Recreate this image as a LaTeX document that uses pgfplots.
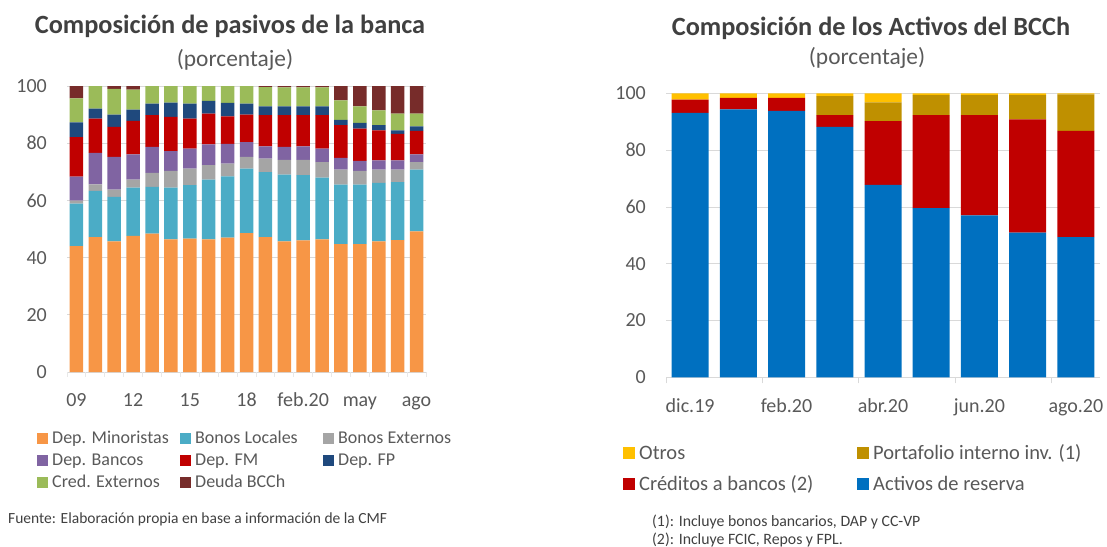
\documentclass[border=0pt]{standalone}
\usepackage{pgfplots}
\pgfplotsset{compat=1.18}
\usepackage{pgfplotstable}
\usepackage{fontspec}
\setmainfont{Carlito}

\definecolor{cMin}{HTML}{F79646}
\definecolor{cBL}{HTML}{4BACC6}
\definecolor{cBE}{HTML}{A5A5A5}
\definecolor{cDB}{HTML}{8064A2}
\definecolor{cFM}{HTML}{C00000}
\definecolor{cFP}{HTML}{1F497D}
\definecolor{cCE}{HTML}{9BBB59}
\definecolor{cBC}{HTML}{772C2A}
\definecolor{cOt}{HTML}{FFC000}
\definecolor{cPo}{HTML}{BF9000}
\definecolor{cCr}{HTML}{C00000}
\definecolor{cAc}{HTML}{0070C0}
\definecolor{txt}{HTML}{595959}
\definecolor{ttl}{HTML}{404040}
\definecolor{grd}{HTML}{D9D9D9}
\definecolor{ltk}{HTML}{E8E8E8}

\pgfplotstableread{
x  min   bl    be   db    fm    fp   ce   bc
0  44.0  14.9  1.0  8.4  13.8  5.2  8.4  4.3
1  47.2  16.1  2.3 11.0  12.0  3.5  7.9  0.0
2  45.7  15.5  2.6 11.4  10.5  4.3  9.0  1.0
3  47.6  16.9  2.8  8.8  11.7  3.9  7.0  1.3
4  48.4  16.3  4.9  9.1  11.1  4.0  6.2  0.0
5  46.4  18.1  5.8  6.9  12.0  5.0  5.8  0.0
6  46.6  18.7  5.8  7.0  10.5  5.2  6.2  0.0
7  46.4  20.9  5.0  7.3  10.7  4.5  5.2  0.0
8  47.0  21.4  4.5  6.9   9.6  4.7  5.9  0.0
9  48.6  22.5  4.1  5.2   9.6  3.8  6.2  0.0
10 47.2  22.7  4.7  4.3  10.9  3.1  6.7  0.4
11 45.7  23.3  5.2  4.5  11.1  3.1  6.6  0.5
12 46.0  22.8  5.4  4.7  10.9  3.1  6.6  0.5
13 46.4  21.6  5.4  4.7  11.7  3.1  6.6  0.5
14 44.7  20.8  5.3  4.1  11.4  1.9  6.8  5.0
15 44.7  20.8  4.8  3.5  11.3  2.0  5.8  7.1
16 45.7  20.4  4.7  3.2  10.5  1.8  5.2  8.5
17 46.1  20.3  4.4  3.2   9.3  1.2  5.8  9.7
18 49.2  21.6  2.6  2.7   8.2  1.6  4.4  9.7
}\leftdata

\pgfplotstableread{
x  ac    cr    po    ot
0  93.1   4.7   0.0  2.2
1  94.3   4.1   0.0  1.6
2  93.8   4.6   0.0  1.6
3  88.2   4.1   6.7  1.0
4  67.8  22.4   6.6  3.2
5  59.6  32.7   7.1  0.6
6  57.0  35.3   7.1  0.6
7  50.9  39.9   8.6  0.6
8  49.4  37.4  12.8  0.4
}\rightdata

\pgfplotsset{
  mystyle/.style={
    scale only axis, ybar stacked, ymin=0, ymax=100, ytick={0,20,...,100},
    axis lines*=left, y axis line style={draw=none},
    x axis line style={draw=grd, line width=1pt},
    ymajorgrids, grid style={draw=grd, line width=0.8pt},
    major tick length=0pt,
    tick label style={font=\fontsize{20}{24}\selectfont, text=txt},
    /pgf/number format/assume math mode=true,
    yticklabel style={inner sep=0pt, xshift=-20pt},
    xticklabel style={inner sep=0pt, text height=14pt, text depth=4pt, yshift=-20.7pt},
  }
}

% legend entry: x of swatch, row centre y, size, colour, font size, text
\newcommand\lgd[6]{%
  \fill[#4] (#1pt,{-#2pt+#3pt/2}) rectangle ({#1pt+#3pt},{-#2pt-#3pt/2});
  \node[anchor=base west, inner sep=0pt, font=\fontsize{#5}{#5}\selectfont, text=txt]
    at ({#1pt+#3pt+4pt},{-#2pt-0.32*#5pt}) {#6};}

\begin{document}
\begin{tikzpicture}
\path[use as bounding box] (0,0) rectangle (1107pt,-546pt);

% Left chart
\begin{axis}[mystyle,
  at={(67pt,-372pt)}, anchor=south west,
  width=359pt, height=286pt,
  xmin=-0.5, xmax=18.5,
  bar width=13.5pt,
  xtick={0,3,6,9,12,15,18},
  xticklabels={09,12,15,18,feb.20,may,ago},
  extra x ticks={-0.5,0.5,...,18.5},
  extra x tick labels={},
  extra x tick style={tick align=outside, major tick length=5pt,
    tick style={draw=ltk, line width=0.8pt}, xmajorgrids=false},
]
\addplot[fill=cMin, draw=none] table[x=x,y=min]{\leftdata};
\addplot[fill=cBL, draw=none] table[x=x,y=bl]{\leftdata};
\addplot[fill=cBE, draw=none] table[x=x,y=be]{\leftdata};
\addplot[fill=cDB, draw=none] table[x=x,y=db]{\leftdata};
\addplot[fill=cFM, draw=none] table[x=x,y=fm]{\leftdata};
\addplot[fill=cFP, draw=none] table[x=x,y=fp]{\leftdata};
\addplot[fill=cCE, draw=none] table[x=x,y=ce]{\leftdata};
\addplot[fill=cBC, draw=none] table[x=x,y=bc]{\leftdata};
\end{axis}

% Right chart
\begin{axis}[mystyle,
  at={(666pt,-377.3pt)}, anchor=south west,
  width=434pt, height=284pt,
  xmin=-0.5, xmax=8.5,
  bar width=37pt,
  xtick={0,2,4,6,8},
  xticklabels={dic.19,feb.20,abr.20,jun.20,ago.20},
  xticklabel style={yshift=-0.7pt},
  extra x ticks={-0.5,1.5,3.5,5.5,7.5},
  extra x tick labels={},
  extra x tick style={tick align=outside, major tick length=6pt,
    tick style={draw=grd, line width=1pt}, xmajorgrids=false},
]
\addplot[fill=cAc, draw=none] table[x=x,y=ac]{\rightdata};
\addplot[fill=cCr, draw=none] table[x=x,y=cr]{\rightdata};
\addplot[fill=cPo, draw=none] table[x=x,y=po]{\rightdata};
\addplot[fill=cOt, draw=none] table[x=x,y=ot]{\rightdata};
\end{axis}

% Legends
\lgd{37}{438}{11}{cMin}{18}{Dep. Minoristas}
\lgd{180}{438}{11}{cBL}{18}{Bonos Locales}
\lgd{323}{438}{11}{cBE}{18}{Bonos Externos}
\lgd{37}{460}{11}{cDB}{18}{Dep. Bancos}
\lgd{180}{460}{11}{cFM}{18}{Dep. FM}
\lgd{323}{460}{11}{cFP}{18}{Dep. FP}
\lgd{37}{482}{11}{cCE}{18}{Cred. Externos}
\lgd{180}{482}{11}{cBC}{18}{Deuda BCCh}

\lgd{623}{453}{12}{cOt}{20.5}{Otros}
\lgd{857}{453}{12}{cPo}{20.5}{Portafolio interno inv. (1)}
\lgd{623}{484}{12}{cCr}{20.5}{Créditos a bancos (2)}
\lgd{857}{484}{12}{cAc}{20.5}{Activos de reserva}

% Titles and notes
\node[anchor=base, font=\fontsize{26.3}{30}\selectfont\bfseries, text=ttl] at (230pt,-33.5pt) {Composición de pasivos de la banca};
\node[anchor=base, font=\fontsize{23.4}{26}\selectfont, text=txt] at (235pt,-66pt) {(porcentaje)};
\node[anchor=base, font=\fontsize{26.3}{30}\selectfont\bfseries, text=ttl] at (871pt,-35.5pt) {Composición de los Activos del BCCh};
\node[anchor=base, font=\fontsize{23.4}{26}\selectfont, text=txt] at (867pt,-64pt) {(porcentaje)};
\node[anchor=base west, inner sep=0pt, font=\fontsize{15.5}{18}\selectfont, text=ttl] at (8pt,-523pt) {Fuente: Elaboración propia en base a información de la CMF};
\node[anchor=base west, inner sep=0pt, font=\fontsize{15.8}{18}\selectfont, text=ttl] at (652pt,-526pt) {(1): Incluye bonos bancarios, DAP y CC-VP};
\node[anchor=base west, inner sep=0pt, font=\fontsize{15.8}{18}\selectfont, text=ttl] at (652pt,-544pt) {(2): Incluye FCIC, Repos y FPL.};
\end{tikzpicture}
\end{document}
